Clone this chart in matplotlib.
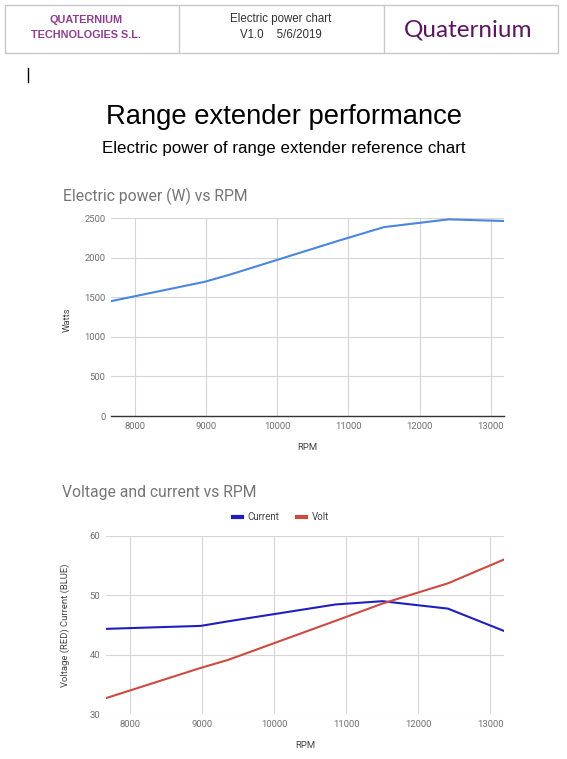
import matplotlib.pyplot as plt
from matplotlib.lines import Line2D
from matplotlib.patches import Rectangle

# datos
rpm = [7660, 8980, 9350, 10850, 11500, 12410, 13188]
power_w = [1450, 1695, 1790, 2210, 2385, 2483, 2462]
current_a = [44.35, 44.85, 45.6, 48.45, 49.0, 47.75, 44.0]
volt_v = [32.7, 37.8, 39.1, 45.7, 48.6, 52.0, 56.0]

power_ticks = [0, 500, 1000, 1500, 2000, 2500]
vc_ticks = [30, 40, 50, 60]
rpm_ticks = [8000, 9000, 10000, 11000, 12000, 13000]

W, H = 567, 759
fig = plt.figure(figsize=(W/100, H/100), dpi=100)
fig.patch.set_facecolor("white")

def fx(px): return px / W
def fy(py): return 1 - py / H

# cabecera (tabla)
border = "#c8c8c8"
fig.add_artist(Rectangle((fx(5), fy(53)), fx(553), 48/H, transform=fig.transFigure,
                         fill=False, edgecolor=border, lw=1))
for xd in (179, 384):
    fig.add_artist(Line2D([fx(xd), fx(xd)], [fy(5), fy(53)], transform=fig.transFigure,
                          color=border, lw=1))
purple = "#8e3f90"
fig.text(fx(86), fy(20), "QUATERNIUM", ha="center", va="center", color=purple,
         fontsize=7.8, fontweight="bold", family="Liberation Sans")
fig.text(fx(86), fy(35), "TECHNOLOGIES S.L.", ha="center", va="center", color=purple,
         fontsize=7.8, fontweight="bold", family="Liberation Sans")
fig.text(fx(281), fy(19), "Electric power chart", ha="center", va="center", color="#333333",
         fontsize=8.3, family="Liberation Sans")
fig.text(fx(281), fy(35), "V1.0    5/6/2019", ha="center", va="center", color="#333333",
         fontsize=8.3, family="Liberation Sans")
fig.text(fx(468), fy(30), "Quaternium", ha="center", va="center", color="#5a1860",
         fontsize=17.5, family="Lato")

# cursor
fig.add_artist(Line2D([fx(28), fx(28)], [fy(68), fy(82)], transform=fig.transFigure,
                      color="black", lw=1))

fig.text(0.5, fy(117), "Range extender performance", ha="center", va="center",
         fontsize=19.7, family="Liberation Sans", color="black")
fig.text(0.5, fy(148), "Electric power of range extender reference chart", ha="center",
         va="center", fontsize=12.2, family="Liberation Sans", color="black")

tick_col = "#707070"
lab_col = "#444444"
title_col = "#757575"

def style(ax, dark_base):
    for s in ax.spines.values():
        s.set_visible(False)
    if dark_base:
        ax.spines["bottom"].set_visible(True)
        ax.spines["bottom"].set_color("#333333")
        ax.spines["bottom"].set_linewidth(1.0)
        ax.spines["bottom"].set_zorder(5)
    ax.grid(True, color="#d6d6d6", lw=0.8)
    ax.set_axisbelow(True)
    ax.tick_params(length=0, labelsize=6.8, labelcolor=tick_col, pad=4)
    for lbl in ax.get_xticklabels() + ax.get_yticklabels():
        lbl.set_family("Roboto")

# grafico 1
ax1 = fig.add_axes([fx(111), fy(416), fx(504) - fx(111), (416 - 218) / H])
ax1.plot(rpm, power_w, color="#4a86e0", lw=1.5)
ax1.set_xlim(rpm[0], rpm[-1])
ax1.set_ylim(power_ticks[0], power_ticks[-1])
ax1.set_xticks(rpm_ticks)
ax1.set_yticks(power_ticks)
style(ax1, True)
fig.text(fx(63), fy(196), "Electric power (W) vs RPM", ha="left", va="center",
         fontsize=11.3, color=title_col, family="Roboto")
fig.text(fx(67), fy(320), "Watts", rotation=90, ha="center", va="center",
         fontsize=6.8, color=lab_col, family="Roboto")
fig.text(fx(307), fy(447), "RPM", ha="center", va="center",
         fontsize=6.8, color=lab_col, family="Roboto")

# grafico 2
ax2 = fig.add_axes([fx(105.7), fy(714.3), fx(504) - fx(105.7), (714.3 - 535.7) / H])
ax2.plot(rpm, current_a, color="#1f1fbf", lw=1.5, label="Current")
ax2.plot(rpm, volt_v, color="#cc4b41", lw=1.5, label="Volt")
ax2.set_xlim(rpm[0], rpm[-1])
ax2.set_ylim(vc_ticks[0], vc_ticks[-1])
ax2.set_xticks(rpm_ticks)
ax2.set_yticks(vc_ticks)
style(ax2, False)
fig.text(fx(62), fy(493), "Voltage and current vs RPM", ha="left", va="center",
         fontsize=11.3, color=title_col, family="Roboto")
fig.text(fx(65), fy(625), "Voltage (RED) Current (BLUE)", rotation=90, ha="center",
         va="center", fontsize=6.8, color=lab_col, family="Roboto")
fig.text(fx(305), fy(746), "RPM", ha="center", va="center",
         fontsize=6.8, color=lab_col, family="Roboto")

h1 = Line2D([], [], color="#1f1fbf", lw=3)
h2 = Line2D([], [], color="#cc4b41", lw=3)
leg = fig.legend([h1, h2], ["Current", "Volt"], loc="center", ncol=2, frameon=False,
                 bbox_to_anchor=(fx(281), fy(517)), handlelength=0.9, handletextpad=0.6,
                 columnspacing=1.8, prop={"family": "Roboto", "size": 7})
for t in leg.get_texts():
    t.set_color(lab_col)

fig.savefig("out.png", dpi=100, facecolor="white")
